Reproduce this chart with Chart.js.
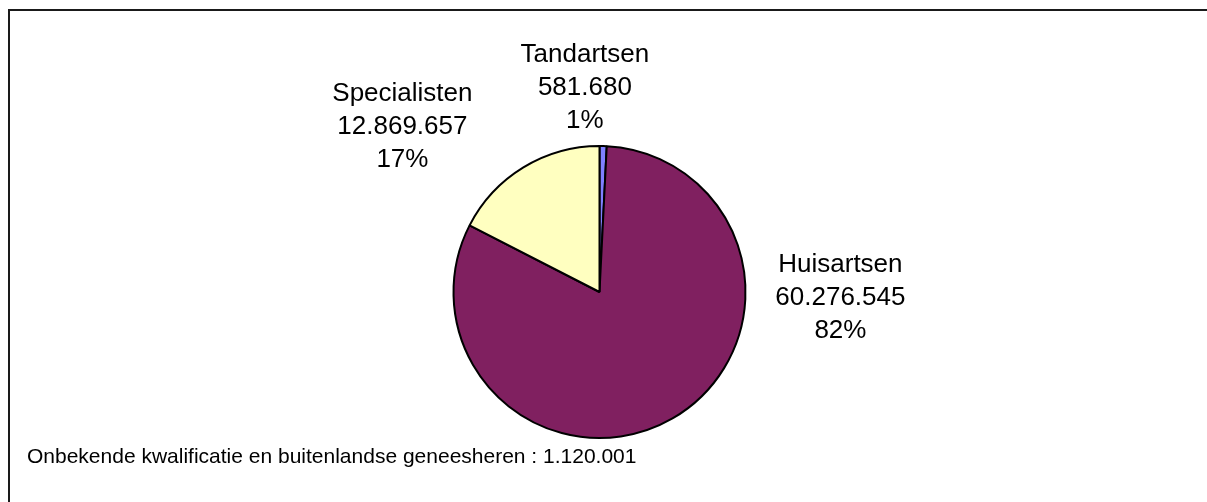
<!DOCTYPE html>
<html>
<head>
<meta charset="utf-8">
<script src="https://cdn.jsdelivr.net/npm/chart.js@4"></script>
<style>
  html, body { margin: 0; padding: 0; background: #fff; }
  #wrap { width: 1207px; height: 502px; position: relative; }
</style>
</head>
<body>
<div id="wrap"><canvas id="pie" width="1207" height="502"></canvas></div>
<script>
// ── Data ────────────────────────────────────────────────
const categories = ['Tandartsen', 'Huisartsen', 'Specialisten'];
const values = [581680, 60276545, 12869657];
const sliceColors = ['#8080FF', '#802060', '#FFFFC0'];
const footnote = 'Onbekende kwalificatie en buitenlandse geneesheren : 1.120.001';

// label block offsets, in units of the pie radius from its centre
const labelOffsets = [
  { dx: -0.10, dy: -1.35 },
  { dx: 1.65, dy: 0.09 },
  { dx: -1.35, dy: -1.08 },
];

const FONT = '"Liberation Sans", Arial, sans-serif';

function fmtNL(n) {
  return String(n).replace(/\B(?=(\d{3})+(?!\d))/g, '.');
}

// frame + footnote + outside labels
const decorations = {
  id: 'decorations',
  afterDraw(chart) {
    const ctx = chart.ctx;
    const meta = chart.getDatasetMeta(0);
    const arc0 = meta.data[0];
    const cx = arc0.x, cy = arc0.y, r = arc0.outerRadius;
    const total = values.reduce((a, b) => a + b, 0);

    ctx.save();
    // frame (left and top edges visible)
    ctx.strokeStyle = '#1a1a1a';
    ctx.lineWidth = 2;
    ctx.beginPath();
    ctx.moveTo(9, chart.height + 5);
    ctx.lineTo(9, 10);
    ctx.lineTo(chart.width + 5, 10);
    ctx.stroke();

    // slice labels
    ctx.fillStyle = '#000';
    ctx.font = '26px ' + FONT;
    ctx.textAlign = 'center';
    ctx.textBaseline = 'alphabetic';
    const lh = 33;
    categories.forEach((name, i) => {
      const off = labelOffsets[i];
      const x = cx + off.dx * r;
      const y = cy + off.dy * r;
      const pct = Math.round(values[i] / total * 100) + '%';
      ctx.fillText(name, x, y - lh);
      ctx.fillText(fmtNL(values[i]), x, y);
      ctx.fillText(pct, x, y + lh);
    });

    // footnote
    ctx.font = '21px ' + FONT;
    ctx.textAlign = 'left';
    ctx.fillText(footnote, 27, 463);
    ctx.restore();
  }
};

new Chart(document.getElementById('pie'), {
  type: 'pie',
  data: {
    labels: categories,
    datasets: [{
      data: values,
      backgroundColor: sliceColors,
      borderColor: '#000',
      borderWidth: 2,
      radius: 146,
    }]
  },
  options: {
    responsive: false,
    animation: false,
    layout: { padding: { left: 0, right: 8, top: 100, bottom: 18 } },
    plugins: {
      legend: { display: false },
      tooltip: { enabled: false },
    },
  },
  plugins: [decorations],
});
</script>
</body>
</html>
